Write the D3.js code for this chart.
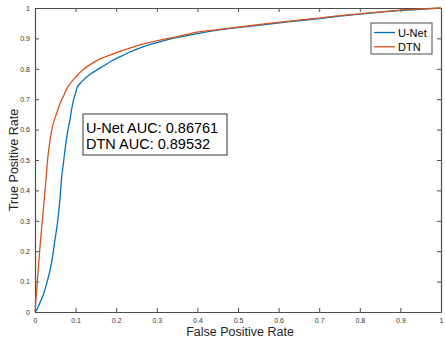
<!DOCTYPE html>
<html>
<head>
<meta charset="utf-8">
<script src="https://cdn.jsdelivr.net/npm/d3@7"></script>
<style>
  body { margin: 0; background: #fff; }
  text { font-family: "Liberation Sans", Arial, sans-serif; }
</style>
</head>
<body>
<div id="chart"></div>
<script>
// ROC curves
var unetFpr = [0, 0.004, 0.012, 0.02, 0.03, 0.037, 0.043, 0.049, 0.054, 0.058, 0.062, 0.065, 0.07, 0.074, 0.08, 0.086, 0.09, 0.095, 0.1, 0.103, 0.11, 0.123, 0.135, 0.152, 0.17, 0.185, 0.21, 0.235, 0.259, 0.3, 0.35, 0.4, 0.45, 0.505, 0.55, 0.628, 0.7, 0.751, 0.8, 0.874, 0.94, 1];
var unetTpr = [0, 0.006, 0.03, 0.055, 0.1, 0.137, 0.18, 0.236, 0.28, 0.325, 0.38, 0.434, 0.49, 0.535, 0.59, 0.631, 0.665, 0.697, 0.72, 0.736, 0.75, 0.768, 0.781, 0.796, 0.81, 0.823, 0.84, 0.856, 0.869, 0.886, 0.903, 0.916, 0.927, 0.936, 0.943, 0.955, 0.965, 0.973, 0.98, 0.989, 0.995, 1];

var dtnFpr = [0, 0.004, 0.008, 0.012, 0.016, 0.02, 0.024, 0.027, 0.031, 0.037, 0.043, 0.049, 0.055, 0.062, 0.07, 0.078, 0.086, 0.1, 0.119, 0.135, 0.152, 0.185, 0.22, 0.259, 0.3, 0.35, 0.382, 0.45, 0.505, 0.55, 0.628, 0.7, 0.751, 0.8, 0.874, 0.94, 1];
var dtnTpr = [0, 0.07, 0.14, 0.21, 0.27, 0.33, 0.39, 0.434, 0.5, 0.565, 0.61, 0.637, 0.66, 0.687, 0.71, 0.733, 0.75, 0.773, 0.798, 0.813, 0.827, 0.845, 0.862, 0.879, 0.892, 0.906, 0.916, 0.929, 0.938, 0.945, 0.957, 0.967, 0.975, 0.981, 0.99, 0.996, 1];

var seriesNames = ["U-Net", "DTN"];
var seriesColors = ["#0072BD", "#D95319"];
var aucLines = ["U-Net AUC: 0.86761", "DTN AUC: 0.89532"];
var ticks = [0, 0.1, 0.2, 0.3, 0.4, 0.5, 0.6, 0.7, 0.8, 0.9, 1];

var width = 445, height = 339;
var margin = {left: 35, right: 4, top: 8, bottom: 27};

var svg = d3.select("#chart").append("svg")
    .attr("width", width)
    .attr("height", height);

var x = d3.scaleLinear().domain([0, 1]).range([margin.left, width - margin.right]);
var y = d3.scaleLinear().domain([0, 1]).range([height - margin.bottom, margin.top]);

var series = [
  {name: seriesNames[0], color: seriesColors[0], pts: d3.zip(unetFpr, unetTpr)},
  {name: seriesNames[1], color: seriesColors[1], pts: d3.zip(dtnFpr, dtnTpr)}
];

var line = d3.line()
    .x(function(d) { return x(d[0]); })
    .y(function(d) { return y(d[1]); })
    .curve(d3.curveMonotoneX);

// axes, ticks pointing inward like matlab
var axisColor = "#4d4d4d";
function styleAxis(g) {
  g.select(".domain").attr("stroke", axisColor).attr("stroke-width", 1.2);
  g.selectAll(".tick line").attr("stroke", axisColor).attr("stroke-width", 1);
  g.selectAll(".tick text").attr("fill", "#333").style("font-size", "7px");
}

svg.append("g")
    .attr("transform", "translate(0," + y(0) + ")")
    .call(d3.axisBottom(x).tickValues(ticks).tickSizeInner(-4).tickSizeOuter(0).tickPadding(6).tickFormat(d3.format("")))
    .call(styleAxis);

svg.append("g")
    .attr("transform", "translate(" + x(0) + ",0)")
    .call(d3.axisLeft(y).tickValues(ticks).tickSizeInner(-4).tickSizeOuter(0).tickPadding(5).tickFormat(d3.format("")))
    .call(styleAxis);

svg.append("g")
    .attr("transform", "translate(0," + y(1) + ")")
    .call(d3.axisTop(x).tickValues(ticks).tickSizeInner(-4).tickSizeOuter(0).tickFormat(""))
    .call(styleAxis);

svg.append("g")
    .attr("transform", "translate(" + x(1) + ",0)")
    .call(d3.axisRight(y).tickValues(ticks).tickSizeInner(-4).tickSizeOuter(0).tickFormat(""))
    .call(styleAxis);

// curves
svg.selectAll(".roc")
    .data(series)
  .enter().append("path")
    .attr("class", "roc")
    .attr("d", function(d) { return line(d.pts); })
    .attr("fill", "none")
    .attr("stroke", function(d) { return d.color; })
    .attr("stroke-width", 1.3);

// axis labels
svg.append("text")
    .attr("x", 240)
    .attr("y", 336)
    .attr("text-anchor", "middle")
    .style("font-size", "12.5px")
    .attr("fill", "#262626")
    .text("False Positive Rate");

svg.append("text")
    .attr("transform", "translate(18," + 160 + ") rotate(-90)")
    .attr("text-anchor", "middle")
    .style("font-size", "12.5px")
    .attr("fill", "#262626")
    .text("True Positive Rate");

// legend
var legend = svg.append("g").attr("transform", "translate(371,23)");
legend.append("rect")
    .attr("width", 61).attr("height", 31)
    .attr("fill", "#fff")
    .attr("stroke", axisColor)
    .attr("stroke-width", 1);

var item = legend.selectAll(".item")
    .data(series)
  .enter().append("g")
    .attr("transform", function(d, i) { return "translate(0," + (9.5 + i * 14.3) + ")"; });
item.append("line")
    .attr("x1", 3).attr("x2", 24)
    .attr("stroke", function(d) { return d.color; })
    .attr("stroke-width", 1.3);
item.append("text")
    .attr("x", 27).attr("y", 4)
    .style("font-size", "11px")
    .attr("fill", "#000")
    .text(function(d) { return d.name; });

// AUC annotation box
var note = svg.append("g").attr("transform", "translate(83,114)");
note.append("rect")
    .attr("width", 144).attr("height", 41)
    .attr("fill", "#fff")
    .attr("stroke", "#333")
    .attr("stroke-width", 1);
note.selectAll("text")
    .data(aucLines)
  .enter().append("text")
    .attr("x", 3)
    .attr("y", function(d, i) { return 19 + i * 16; })
    .style("font-size", "14.5px")
    .attr("fill", "#000")
    .text(function(d) { return d; });
</script>
</body>
</html>
